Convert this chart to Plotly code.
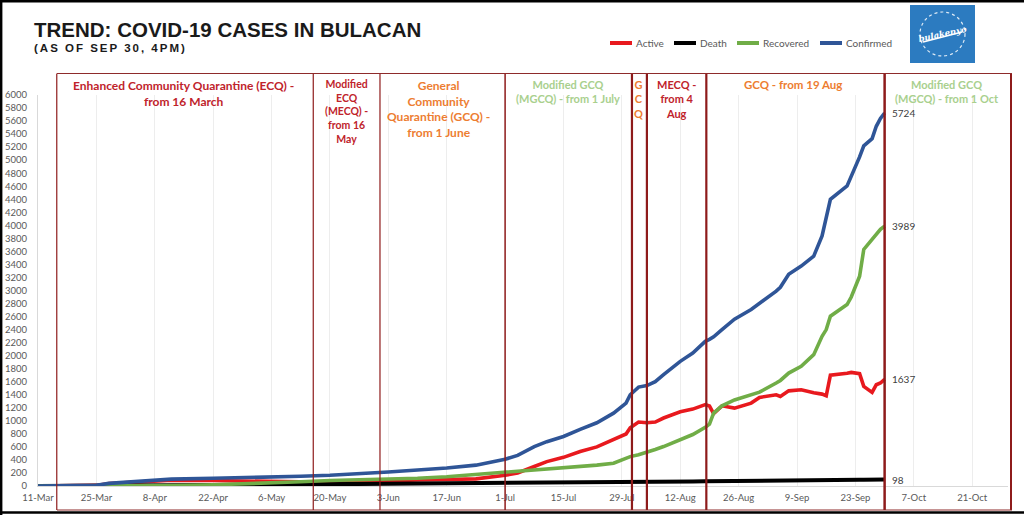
import plotly.graph_objects as go

# ---------------- data ----------------
dates = ["2020-03-11", "2020-03-18", "2020-03-25", "2020-03-28", "2020-04-01",
         "2020-04-08", "2020-04-12", "2020-04-22", "2020-04-29", "2020-05-06",
         "2020-05-13", "2020-05-20", "2020-05-27", "2020-06-03", "2020-06-10",
         "2020-06-17", "2020-06-24", "2020-07-01", "2020-07-04", "2020-07-08",
         "2020-07-11", "2020-07-15", "2020-07-19", "2020-07-23", "2020-07-27",
         "2020-07-30", "2020-07-31", "2020-08-02", "2020-08-04", "2020-08-06",
         "2020-08-08", "2020-08-10", "2020-08-12", "2020-08-15", "2020-08-18",
         "2020-08-19", "2020-08-20", "2020-08-22", "2020-08-25", "2020-08-29",
         "2020-08-31", "2020-09-04", "2020-09-05", "2020-09-07", "2020-09-10",
         "2020-09-13", "2020-09-15", "2020-09-16", "2020-09-17", "2020-09-21",
         "2020-09-22", "2020-09-24", "2020-09-25", "2020-09-27", "2020-09-28",
         "2020-09-29", "2020-09-30"]

active = [0, 2, 9, 37, 52, 70, 88, 85, 78, 70,
          63, 55, 63, 85, 94, 100, 110, 165, 200, 300,
          374, 440, 530, 600, 717, 798, 894, 982, 970, 982,
          1043, 1093, 1139, 1180, 1250, 1227, 1110, 1230, 1195, 1272,
          1359, 1400, 1374, 1460, 1477, 1430, 1410, 1385, 1700, 1730,
          1743, 1723, 1528, 1436, 1554, 1580, 1637]

death = [0, 0, 1, 3, 5, 8, 12, 15, 17, 20,
         22, 25, 27, 30, 31, 33, 35, 38, 39, 40,
         41, 42, 47, 50, 52, 54, 55, 56, 57, 58,
         60, 62, 66, 70, 72, 73, 74, 75, 77, 80,
         82, 85, 86, 87, 89, 92, 93, 94, 95, 96,
         96, 97, 97, 97, 98, 98, 98]

recovered = [0, 0, 0, 0, 0, 2, 5, 18, 30, 45,
             65, 85, 95, 100, 120, 143, 175, 210, 230, 250,
             265, 280, 297, 320, 349, 420, 451, 480, 513, 560,
             605, 655, 708, 790, 900, 950, 1118, 1230, 1320, 1400,
             1440, 1580, 1620, 1733, 1836, 2015, 2297, 2400, 2605, 2785,
             2900, 3220, 3630, 3785, 3860, 3938, 3989]

confirmed = [0, 2, 10, 40, 57, 80, 105, 118, 125, 135,
             150, 165, 185, 215, 245, 275, 320, 410, 470, 605,
             680, 760, 870, 970, 1118, 1272, 1400, 1518, 1540, 1600,
             1708, 1810, 1913, 2040, 2220, 2250, 2290, 2400, 2560, 2708,
             2800, 2990, 3050, 3250, 3374, 3528, 3836, 4120, 4400, 4605,
             4750, 5050, 5220, 5330, 5520, 5640, 5724]

series_names = ["Active", "Death", "Recovered", "Confirmed"]
series_values = [active, death, recovered, confirmed]
series_colors = ["#E8191E", "#000000", "#70AD47", "#2F5597"]

phase_bounds = ["2020-03-15 12:00", "2020-05-16", "2020-06-01", "2020-07-01",
                "2020-07-31 10:00", "2020-08-04", "2020-08-18 06:00", "2020-09-30"]
phase_widths = [1.2, 1.2, 1.2, 1.5, 2.2, 2.2, 2.2, 2.5]
phase_labels = ["Enhanced Community Quarantine (ECQ) -<br>from 16 March",
                "Modified<br>ECQ<br>(MECQ) -<br>from 16<br>May",
                "General<br>Community<br>Quarantine (GCQ) -<br>from 1 June",
                "Modified GCQ<br>(MGCQ) - from 1 July",
                "G<br>C<br>Q",
                "MECQ -<br>from 4<br>Aug",
                "GCQ - from 19 Aug",
                "Modified GCQ<br>(MGCQ) - from 1 Oct"]
phase_mids = ["2020-04-15", "2020-05-24", "2020-06-15", "2020-07-16",
              "2020-08-02", "2020-08-11", "2020-09-08", "2020-10-15"]
RED, ORANGE, LGREEN = "#C0232B", "#ED7D31", "#A9D08E"
phase_colors = [RED, RED, ORANGE, LGREEN, ORANGE, RED, ORANGE, LGREEN]
phase_sizes = [12, 10.5, 12, 11, 11, 11, 11.5, 11]

title_text = "TREND: COVID-19 CASES IN BULACAN"
subtitle_text = "(AS OF SEP 30, 4PM)"

# legend layout (pixel positions of each key's line start)
legend_px = [610, 674, 737, 820]

# ---------------- layout geometry ----------------
W, H = 1024, 515
ML, MR, MT, MB = 38, 16, 95, 29
PW, PH = W - ML - MR, H - MT - MB


def px_x(px):
    return (px - ML) / PW


def px_y(py):
    return (H - MB - py) / PH


fig = go.Figure()

for name, vals, col in zip(series_names, series_values, series_colors):
    fig.add_trace(go.Scatter(
        x=dates, y=vals, name=name, mode="lines",
        line=dict(color=col, width=4 if name == "Death" else 3.6),
        hoverinfo="x+y+name"))

shapes = []
box_top, box_bot = px_y(73.5), px_y(510)
for b, w in zip(phase_bounds, phase_widths):
    shapes.append(dict(type="line", xref="x", yref="paper", x0=b, x1=b,
                       y0=box_bot, y1=box_top,
                       line=dict(color="#8E1B1B", width=w)))
# right edge, top and bottom of the phase boxes
shapes.append(dict(type="line", xref="paper", yref="paper", x0=px_x(1011), x1=px_x(1011),
                   y0=box_bot, y1=box_top, line=dict(color="#8E1B1B", width=2)))
for yy in (box_top, box_bot):
    shapes.append(dict(type="line", xref="paper", yref="paper", x0=px_x(57), x1=px_x(1012),
                       y0=yy, y1=yy, line=dict(color="#8E2B2B", width=1.2)))
# outer black frame
shapes.append(dict(type="line", xref="paper", yref="paper", x0=px_x(0), x1=px_x(1024),
                   y0=px_y(1.2), y1=px_y(1.2), line=dict(color="#000", width=2.4)))
shapes.append(dict(type="line", xref="paper", yref="paper", x0=px_x(1.2), x1=px_x(1.2),
                   y0=px_y(0), y1=px_y(515), line=dict(color="#000", width=2.4)))
shapes.append(dict(type="line", xref="paper", yref="paper", x0=px_x(0), x1=px_x(1024),
                   y0=px_y(512.5), y1=px_y(512.5), line=dict(color="#000", width=2.4)))
# logo
shapes.append(dict(type="rect", xref="paper", yref="paper", x0=px_x(910), x1=px_x(975),
                   y0=px_y(63), y1=px_y(5), fillcolor="#2C7BC0", line=dict(width=0)))
shapes.append(dict(type="circle", xref="paper", yref="paper", x0=px_x(920), x1=px_x(965),
                   y0=px_y(56), y1=px_y(12), fillcolor="rgba(0,0,0,0)",
                   line=dict(color="rgba(255,255,255,0.85)", width=1.2, dash="dot")))
shapes.append(dict(type="line", xref="paper", yref="paper", x0=px_x(923), x1=px_x(962),
                   y0=px_y(42), y1=px_y(32), line=dict(color="white", width=1.5)))

annotations = []
# legend keys
for name, col, lx in zip(series_names, series_colors, legend_px):
    shapes.append(dict(type="line", xref="paper", yref="paper", x0=px_x(lx), x1=px_x(lx + 22),
                       y0=px_y(43), y1=px_y(43), line=dict(color=col, width=4)))
    annotations.append(dict(text=name, x=px_x(lx + 24), y=px_y(43), xref="paper", yref="paper",
                            xanchor="left", yanchor="middle", showarrow=False,
                            font=dict(family="Lato", size=10, color="#595959")))

for lab, mid, col, sz in zip(phase_labels, phase_mids, phase_colors, phase_sizes):
    annotations.append(dict(text="<b>" + lab + "</b>", x=mid, xref="x", y=px_y(76.5), yref="paper",
                            xanchor="center", yanchor="top", showarrow=False, align="center",
                            font=dict(family="Lato", size=sz, color=col)))
# end-of-series labels
for vals in series_values:
    annotations.append(dict(text=str(vals[-1]), x=dates[-1], y=vals[-1], xref="x", yref="y",
                            xanchor="left", yanchor="middle", xshift=5, showarrow=False,
                            font=dict(family="Lato", size=10, color="#404040")))
annotations.append(dict(text="<b>" + title_text + "</b>", x=px_x(33), y=px_y(29.3),
                        xref="paper", yref="paper", xanchor="left", yanchor="middle",
                        borderpad=0, showarrow=False,
                        font=dict(family="Liberation Sans", size=20.5, color="#1A1A1A")))
annotations.append(dict(text="<b><span style='letter-spacing:2px'>" + subtitle_text + "</span></b>",
                        x=px_x(33), y=px_y(48.2), xref="paper", yref="paper", xanchor="left",
                        yanchor="middle", showarrow=False, borderpad=0,
                        font=dict(family="Liberation Sans", size=11.5, color="#1A1A1A")))
annotations.append(dict(text="<i><b>bulakenyo</b></i>", x=px_x(942), y=px_y(34), xref="paper",
                        yref="paper", xanchor="center", yanchor="middle", showarrow=False,
                        textangle=-12, font=dict(family="DejaVu Serif", size=8.5, color="white")))

tick_font = dict(family="Lato", size=9.5, color="#595959")
fig.update_layout(
    width=W, height=H, autosize=False,
    margin=dict(l=ML, r=MR, t=MT, b=MB, pad=0, autoexpand=False),
    paper_bgcolor="white", plot_bgcolor="white",
    showlegend=False,
    xaxis=dict(type="date", range=["2020-03-11", "2020-10-29 14:00"],
               tick0="2020-03-11", dtick=14 * 86400000, tickformat="%-d-%b",
               showgrid=True, gridcolor="#EDEDED", gridwidth=1,
               showline=True, linecolor="#D9D9D9", linewidth=1, ticks="",
               zeroline=False, tickfont=tick_font, ticklabelstandoff=3, automargin=False),
    yaxis=dict(range=[0, 6000], dtick=200, tick0=0, showgrid=False,
               showline=True, linecolor="#D9D9D9", linewidth=1, ticks="",
               zeroline=False, tickfont=tick_font, ticklabelstandoff=8, automargin=False),
    shapes=shapes, annotations=annotations,
    hovermode="closest",
)

fig.write_html("out.html", post_script="document.body.style.margin='0';")
